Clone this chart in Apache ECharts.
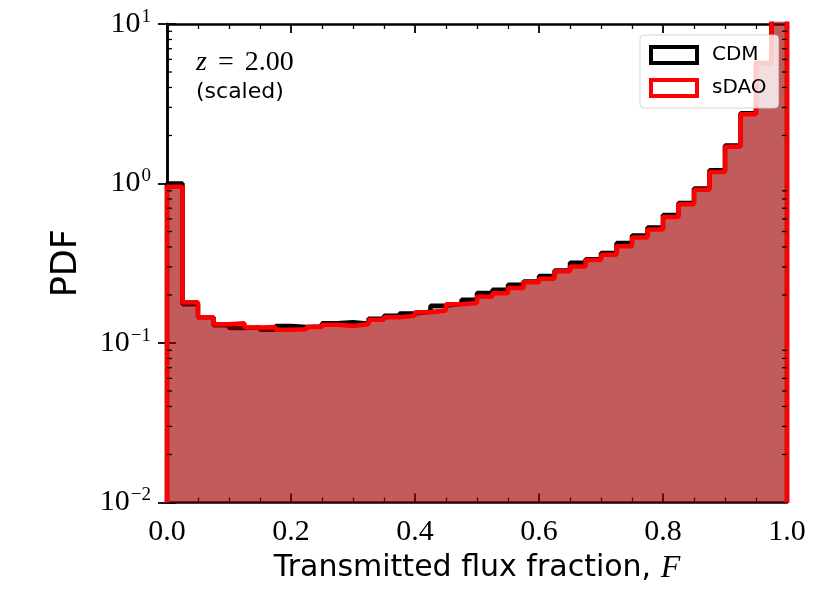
<!DOCTYPE html>
<html>
<head>
<meta charset="utf-8">
<script src="https://cdn.jsdelivr.net/npm/echarts@6/dist/echarts.min.js"></script>
<style>
  html, body { margin: 0; padding: 0; background: #fff; }
  #chart { width: 830px; height: 593px; }
</style>
</head>
<body>
<div id="chart"></div>
<script>
// 40 bins of width 0.025 from F = 0 to F = 1
var binWidth = 0.025;
var cdmValues = [
    1.00, 0.175, 0.145, 0.129, 0.124, 0.125, 0.121, 0.128, 0.126, 0.127,
    0.133, 0.135, 0.132, 0.142, 0.148, 0.153, 0.157, 0.171, 0.176, 0.187,
    0.206, 0.216, 0.232, 0.243, 0.263, 0.285, 0.318, 0.335, 0.367, 0.424,
    0.472, 0.530, 0.634, 0.754, 0.930, 1.21, 1.73, 2.76, 5.70, 11.0
];
var sdaoValues = [
    0.953, 0.180, 0.145, 0.131, 0.133, 0.125, 0.126, 0.121, 0.122, 0.126,
    0.130, 0.128, 0.131, 0.140, 0.145, 0.148, 0.156, 0.160, 0.175, 0.178,
    0.195, 0.205, 0.221, 0.240, 0.253, 0.282, 0.302, 0.332, 0.357, 0.404,
    0.459, 0.515, 0.616, 0.740, 0.915, 1.18, 1.70, 2.72, 5.67, 11.0
];
var yMin = 0.01, yMax = 10;
// minor log ticks 2..9 per decade
var yMinorTicks = [];
[0.01, 0.1, 1].forEach(function (d) {
    for (var m = 2; m <= 9; m++) yMinorTicks.push(+(m * d).toPrecision(3));
});

function stepData(values) {
    var pts = [[0, yMin]];
    values.forEach(function (v, i) { pts.push([+(i * binWidth).toFixed(3), v]); });
    pts.push([1, values[values.length - 1]]);
    pts.push([1, yMin]);
    return pts;
}

var chart = echarts.init(document.getElementById('chart'));
var serif = 'Liberation Serif';
var sans = 'DejaVu Sans';
var sup = { '-2': '\u22122', '-1': '\u22121', '0': '0', '1': '1' };

var tickStyle = { show: true, inside: true, length: 9, lineStyle: { color: '#000', width: 1.8 } };
var minorStyle = { show: true, splitNumber: 4, length: 5, lineStyle: { color: '#000', width: 1.3 } };
var lineStyle = { show: true, lineStyle: { color: '#000', width: 2.5 } };

chart.setOption({
    animation: false,
    grid: { left: 167, right: 43, top: 24, bottom: 90.5 },
    legend: {
        orient: 'vertical',
        left: 640,
        top: 35,
        padding: [10, 12, 10, 9],
        itemGap: 13,
        itemWidth: 46,
        itemHeight: 16,
        icon: 'rect',
        backgroundColor: 'rgba(255,255,255,0.8)',
        borderColor: 'rgba(204,204,204,0.8)',
        borderWidth: 1,
        borderRadius: 4,
        textStyle: { fontFamily: sans, fontSize: 20, color: '#000', padding: [0, 0, 0, 10] },
        data: [
            { name: 'CDM', itemStyle: { color: 'rgba(0,0,0,0)', borderColor: '#000', borderWidth: 4 } },
            { name: 'sDAO', itemStyle: { color: 'rgba(0,0,0,0)', borderColor: '#ff0000', borderWidth: 4 } }
        ]
    },
    xAxis: [{
        type: 'value', min: 0, max: 1, interval: 0.2,
        axisLine: lineStyle, axisTick: tickStyle, minorTick: minorStyle,
        splitLine: { show: false },
        axisLabel: {
            margin: 15,
            fontFamily: serif, fontSize: 30, color: '#000',
            formatter: function (v) { return v.toFixed(1); }
        },
        name: 'Transmitted flux fraction, {i|F}',
        nameLocation: 'middle',
        nameGap: 33,
        nameTextStyle: {
            fontFamily: sans, fontSize: 30, color: '#000',
            rich: { i: { fontFamily: serif, fontStyle: 'italic', fontSize: 32, color: '#000' } }
        }
    }, {
        type: 'value', min: 0, max: 1, interval: 0.2, position: 'top',
        axisLine: lineStyle, axisTick: tickStyle, minorTick: minorStyle,
        splitLine: { show: false }, axisLabel: { show: false }
    }],
    yAxis: [{
        type: 'log', logBase: 10, min: yMin, max: yMax,
        axisLine: lineStyle, axisTick: tickStyle,
        splitLine: { show: false },
        axisLabel: {
            margin: 16,
            color: '#000',
            formatter: function (v) {
                var e = Math.round(Math.log10(v));
                return '{b|10}{s|' + sup[e] + '}';
            },
            rich: {
                b: { fontFamily: serif, fontSize: 30, color: '#000' },
                s: { fontFamily: serif, fontSize: 19, color: '#000', padding: [0, 0, 14, 1] }
            }
        },
        name: 'PDF',
        nameLocation: 'middle',
        nameGap: 83,
        nameTextStyle: { fontFamily: sans, fontSize: 35, color: '#000' }
    }, {
        type: 'log', logBase: 10, min: yMin, max: yMax, position: 'right',
        axisLine: lineStyle, axisTick: tickStyle,
        splitLine: { show: false }, axisLabel: { show: false }
    }],
    graphic: [
        {
            type: 'text', left: 196, top: 49,
            style: {
                text: '{i|z}{s|=}2.00',
                fontFamily: serif, fontSize: 28, fill: '#000',
                rich: {
                    i: { fontFamily: serif, fontStyle: 'italic', fontSize: 28, fill: '#000' },
                    s: { fontFamily: serif, fontSize: 28, fill: '#000', padding: [0, 11, 0, 11] }
                }
            }
        },
        {
            type: 'text', left: 196, top: 81,
            style: { text: '(scaled)', fontFamily: sans, fontSize: 22, fill: '#000' }
        }
    ],
    series: [
        {
            name: 'CDM', type: 'line', step: 'end', symbol: 'none',
            data: stepData(cdmValues),
            lineStyle: { color: '#000', width: 4.5 },
            itemStyle: { color: '#000' },
            areaStyle: { color: 'rgba(0,0,0,0.4)', opacity: 1, origin: 'start' },
            z: 2
        },
        {
            name: 'sDAO', type: 'line', step: 'end', symbol: 'none',
            data: stepData(sdaoValues),
            lineStyle: { color: '#ff0000', width: 4.5 },
            itemStyle: { color: '#ff0000' },
            areaStyle: { color: 'rgba(255,0,0,0.4)', opacity: 1, origin: 'start' },
            z: 3
        },
        {
            type: 'custom', silent: true, clip: false, z: 5,
            encode: { x: 0, y: 1 },
            data: yMinorTicks.map(function (v) { return [0, v]; }),
            renderItem: function (params, api) {
                var v = api.value(1);
                var l = api.coord([0, v]);
                var r = api.coord([1, v]);
                return {
                    type: 'group',
                    children: [
                        { type: 'line', shape: { x1: l[0], y1: l[1], x2: l[0] + 5, y2: l[1] },
                          style: { stroke: '#000', lineWidth: 1.3 } },
                        { type: 'line', shape: { x1: r[0], y1: r[1], x2: r[0] - 5, y2: r[1] },
                          style: { stroke: '#000', lineWidth: 1.3 } }
                    ]
                };
            }
        }
    ]
});
</script>
</body>
</html>
